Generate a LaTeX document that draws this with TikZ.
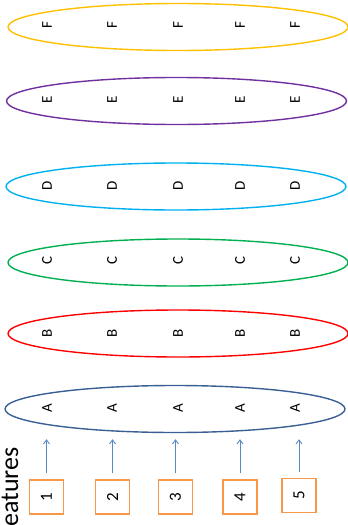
\documentclass[tikz,border=0pt]{standalone}
\usepackage{fontspec}
\setmainfont{Carlito}
\usetikzlibrary{shapes.geometric,arrows.meta}
\definecolor{cF}{HTML}{FFC000}
\definecolor{cE}{HTML}{7030A0}
\definecolor{cD}{HTML}{00B0F0}
\definecolor{cC}{HTML}{00B050}
\definecolor{cB}{HTML}{FF0000}
\definecolor{cA}{HTML}{3A5F94}
\definecolor{cBox}{HTML}{F7974A}
\definecolor{cArr}{HTML}{5A8AC6}
\tikzset{
  ell/.style={ellipse, line width=1.4pt, minimum width=340pt, minimum height=47pt, inner sep=0pt},
  lab/.style={rotate=90, inner sep=0pt, font=\fontsize{15}{15}\selectfont},
  numbox/.style={draw=cBox, line width=1.8pt, minimum size=34pt, inner sep=0pt, font=\fontsize{17}{17}\selectfont},
  arr/.style={draw=cArr, line width=0.9pt, -{Straight Barb[length=4pt,width=6pt]}, shorten <=6pt, shorten >=6pt}
}
\begin{document}
\begin{tikzpicture}[x=1pt,y=-1pt]
\useasboundingbox (0,0) rectangle (348,525);
\clip (0,0) rectangle (348,525);
% ellipses
\node[ell, draw=cF] (eF) at (178,27) {};
\node[ell, draw=cE] (eE) at (176.5,101) {};
\node[ell, draw=cD] (eD) at (176,186.5) {};
\node[ell, draw=cC] (eC) at (178,262.5) {};
\node[ell, draw=cB] (eB) at (178,333.5) {};
\node[ell, draw=cA] (eA) at (175,409) {};
% letters
\foreach \r/\y in {F/25,E/100,D/186,C/260,B/333,A/408}{
  \foreach \x [count=\i] in {47,112,178,240,295}{
    \node[lab] (\r\i) at (\x,\y) {\r};
  }
}
% boxes
\node[numbox] (n1) at (46.5,497) {\rotatebox{90}{1}};
\node[numbox] (n2) at (112.5,497) {\rotatebox{90}{2}};
\node[numbox] (n3) at (175.5,497) {\rotatebox{90}{3}};
\node[numbox] (n4) at (240,497) {\rotatebox{90}{4}};
\node[numbox] (n5) at (299,495.5) {\rotatebox{90}{5}};
% arrows
\foreach \i in {1,...,5}{
  \draw[arr] (n\i.north) -- (n\i.north |- eA.south);
}
% side label
\node[rotate=90, anchor=base east, inner sep=0pt, font=\fontsize{26}{26}\selectfont] (side) at (18,447) {Features};
\end{tikzpicture}
\end{document}
